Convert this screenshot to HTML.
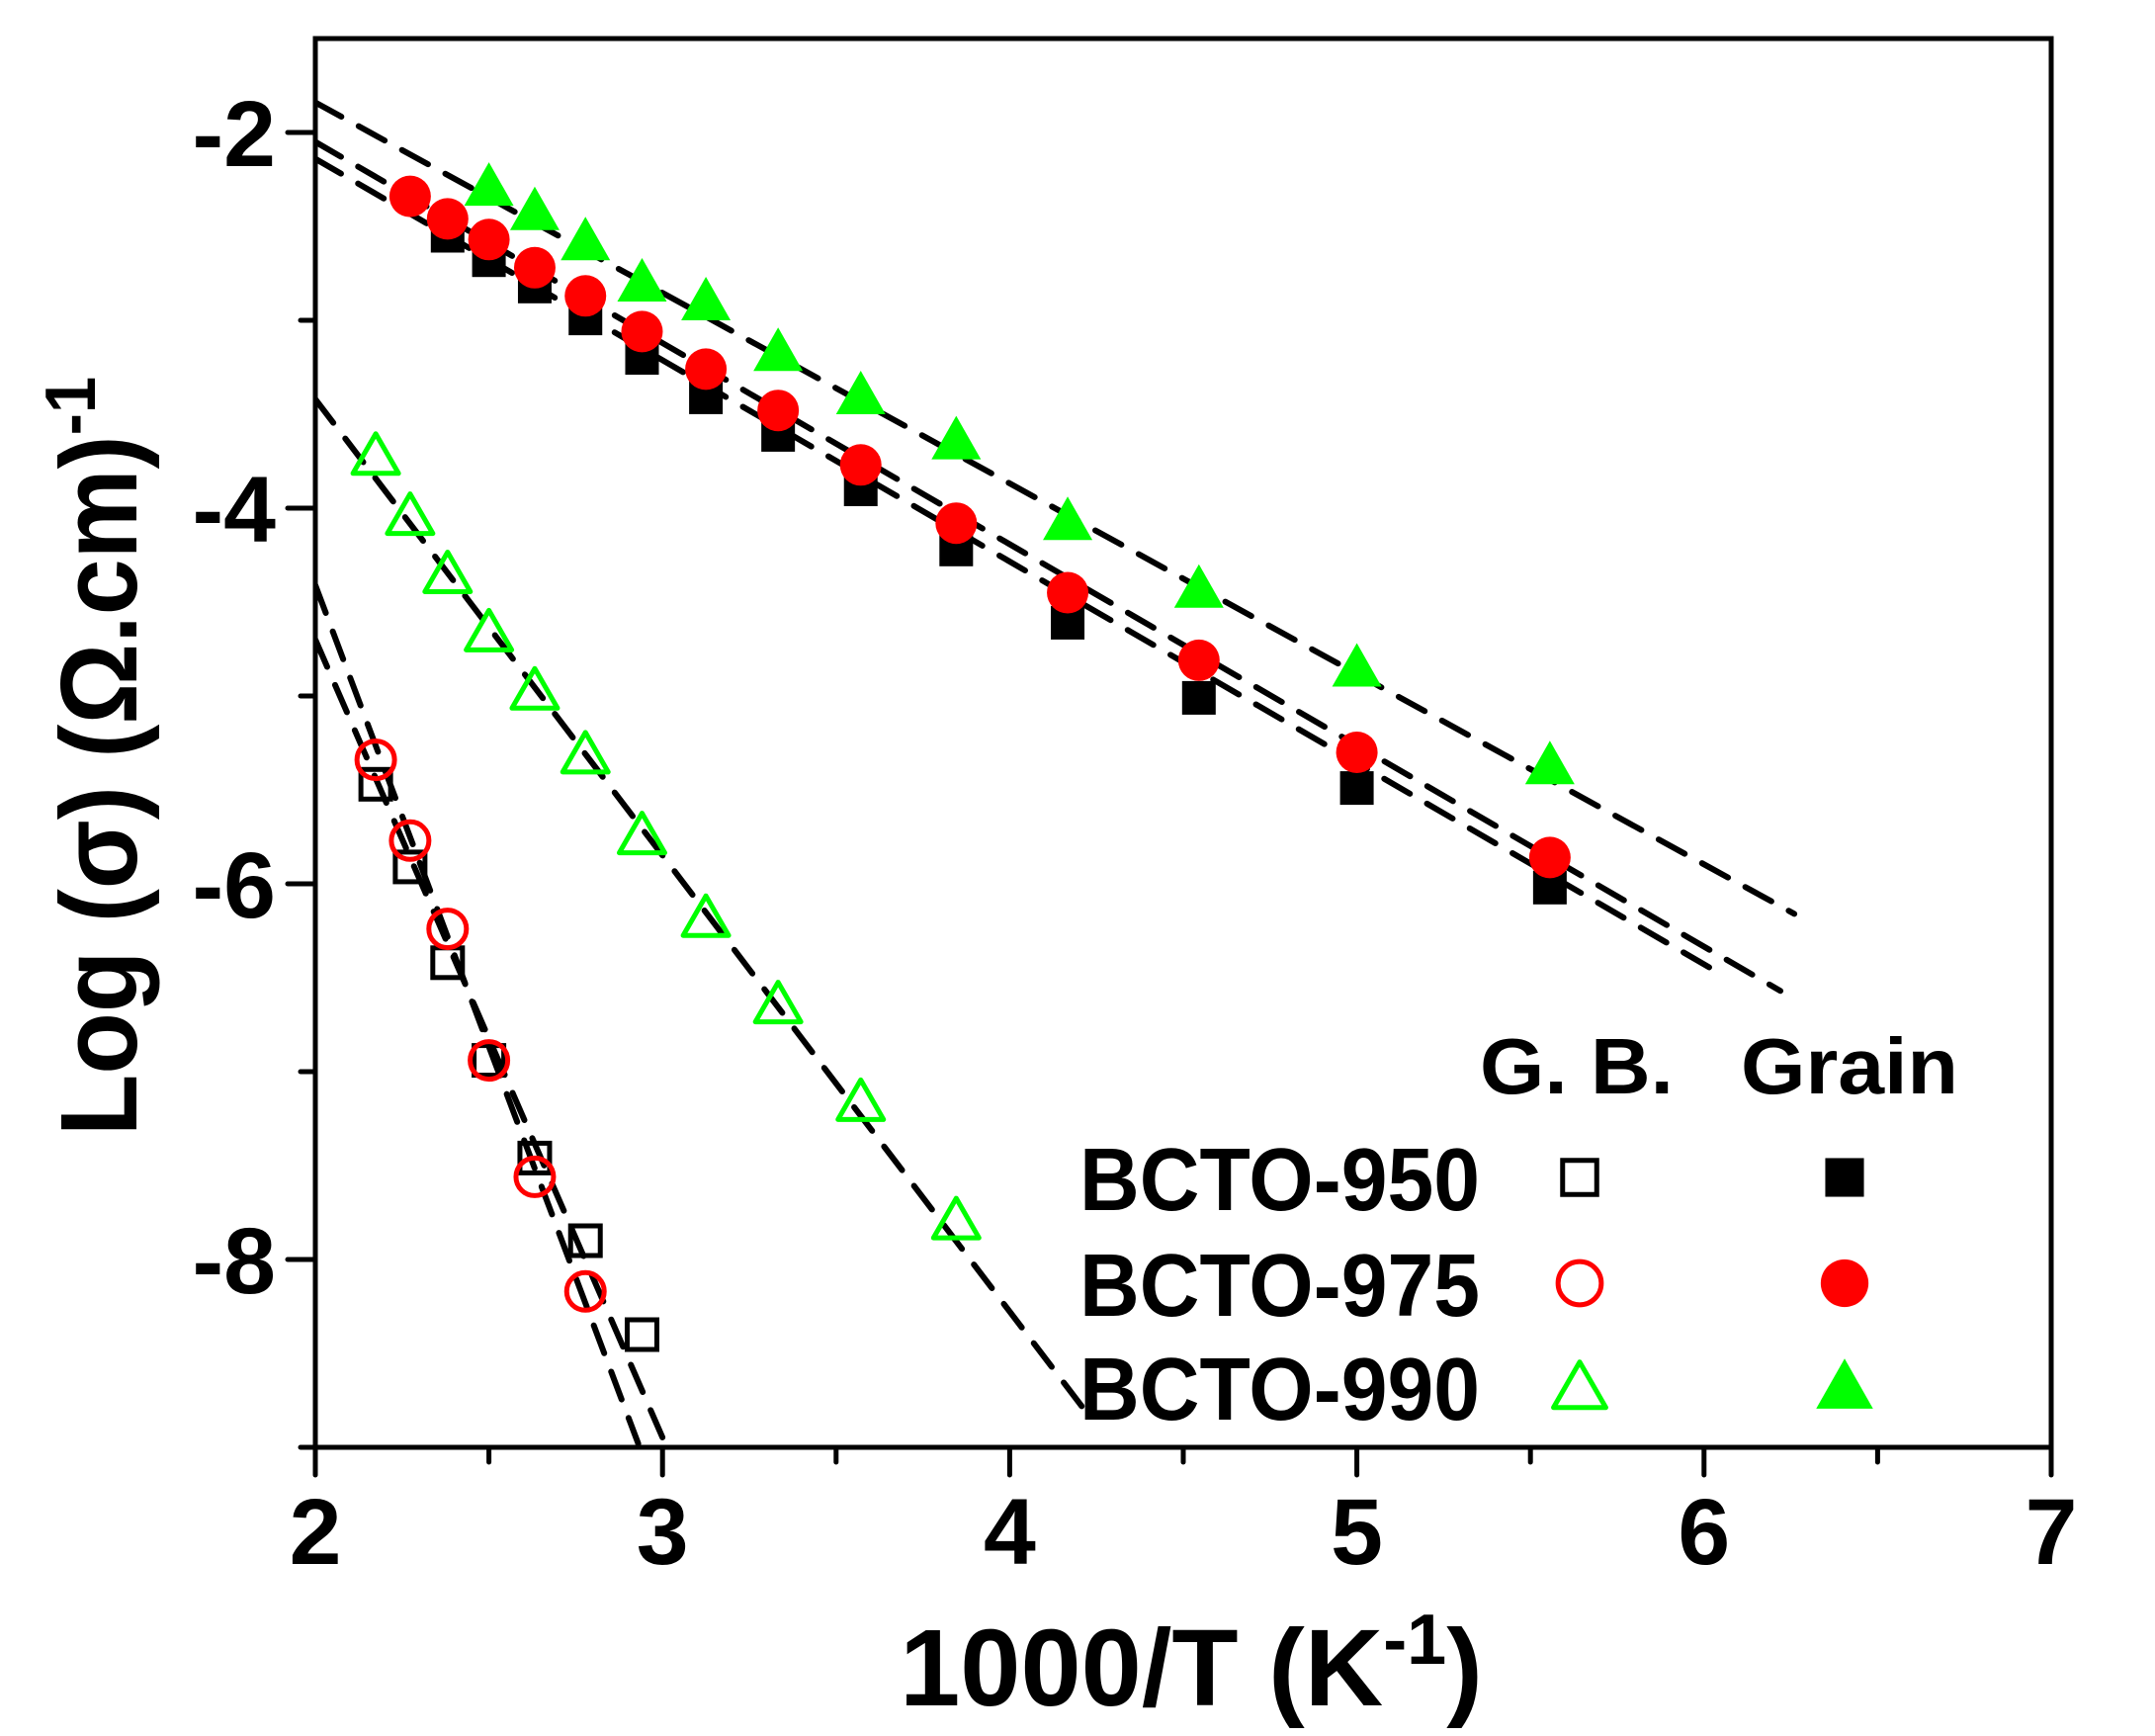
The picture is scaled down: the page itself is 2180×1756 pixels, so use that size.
<!DOCTYPE html>
<html><head><meta charset="utf-8"><style>
html,body{margin:0;padding:0;background:#fff;}
svg{display:block;font-family:"Liberation Sans",Arial,sans-serif;font-weight:bold;}
</style></head><body>
<svg id="chart" width="2180" height="1756" viewBox="0 0 2180 1756" xmlns="http://www.w3.org/2000/svg"></svg>
<script>
const xTicks = [2,3,4,5,6,7];
const yTicks = [-2,-4,-6,-8];
const xGrain = [2.381,2.5,2.632,2.778,2.941,3.125,3.333,3.571,3.846,4.167,4.545,5.0,5.556];
const grain950 = [-2.55,-2.68,-2.82,-2.99,-3.20,-3.41,-3.61,-3.90,-4.22,-4.61,-5.01,-5.49,-6.02];
const xGrain975 = [2.273,2.381,2.5,2.632,2.778,2.941,3.125,3.333,3.571,3.846,4.167,4.545,5.0,5.556];
const grain975 = [-2.34,-2.46,-2.57,-2.72,-2.87,-3.06,-3.26,-3.48,-3.77,-4.08,-4.45,-4.81,-5.30,-5.86];
const xGrain990 = [2.5,2.632,2.778,2.941,3.125,3.333,3.571,3.846,4.167,4.545,5.0,5.556];
const grain990 = [-2.29,-2.42,-2.58,-2.80,-2.90,-3.17,-3.40,-3.64,-4.07,-4.43,-4.85,-5.37];
const xGB990 = [2.174,2.273,2.381,2.5,2.632,2.778,2.941,3.125,3.333,3.571,3.846];
const gb990 = [-3.72,-4.04,-4.35,-4.66,-4.97,-5.31,-5.74,-6.18,-6.64,-7.16,-7.79];
const xGB950 = [2.174,2.273,2.381,2.5,2.632,2.778,2.941];
const gb950 = [-5.47,-5.91,-6.42,-6.94,-7.46,-7.90,-8.40];
const xGB975 = [2.174,2.273,2.381,2.5,2.632,2.778];
const gb975 = [-5.34,-5.77,-6.24,-6.94,-7.56,-8.17];
// fit lines: [x0, y0, x1, y1] in data units
const fitGrain990 = [2.0,-1.84,6.26,-6.16];
const fitGrain975 = [2.0,-2.05,6.22,-6.57];
const fitGrain950 = [2.0,-2.14,6.02,-6.45];
const fitGB990 = [2.0,-3.42,4.24,-8.86];
const fitGB950a = [2.0,-4.41,2.93,-8.98];
const fitGB950b = [2.0,-4.70,3.01,-8.99];

const L=319,R=2075,T=39,B=1464;
const sx = v => L + (v-2)*(R-L)/5;
const sy = v => 134 + (-2 - v)*190;
const svg = document.getElementById('chart');
const NS='http://www.w3.org/2000/svg';
function mk(tag, attrs, parent){const e=document.createElementNS(NS,tag);for(const k in attrs)e.setAttribute(k,attrs[k]);(parent||svg).appendChild(e);return e;}

const defs=mk('defs',{});
const cp=mk('clipPath',{id:'clip'},defs);
mk('rect',{x:L,y:T,width:R-L,height:B-T},cp);

const fitG=mk('g',{'clip-path':'url(#clip)'});


[['fit-grain-990',fitGrain990],['fit-grain-975',fitGrain975],['fit-grain-950',fitGrain950],['fit-gb-990',fitGB990],['fit-gb-950',fitGB950a],['fit-gb-975',fitGB950b]].forEach(([n,f])=>{
  const l=mk('line',{x1:sx(f[0]),y1:sy(f[1]),x2:sx(f[2]),y2:sy(f[3]),stroke:'#000','stroke-width':6,'stroke-dasharray':'30 20','stroke-linecap':'round'},fitG);
  
  
});

function marker(type,x,y,parent,name,s){
  s=s||1;
  let e;
  if(type==='sq') e=mk('rect',{x:x-17*s,y:y-17*s,width:34*s,height:34*s,fill:'#000'},parent);
  else if(type==='osq') e=mk('rect',{x:x-15*s,y:y-15*s,width:30*s,height:30*s,fill:'none',stroke:'#000','stroke-width':5},parent);
  else if(type==='ci') e=mk('circle',{cx:x,cy:y,r:21*s,fill:'#f00'},parent);
  else if(type==='oci') e=mk('circle',{cx:x,cy:y,r:19*s,fill:'none',stroke:'#f00','stroke-width':5},parent);
  else if(type==='tri') e=mk('polygon',{points:`${x},${y-25*s} ${x+25*s},${y+19*s} ${x-25*s},${y+19*s}`,fill:'#0f0'},parent);
  else e=mk('polygon',{points:`${x},${y-22*s} ${x+23*s},${y+18*s} ${x-23*s},${y+18*s}`,fill:'none',stroke:'#0f0','stroke-width':5,'stroke-linejoin':'round'},parent);
  
  
  return e;
}
function series(name,type,xs,ys){
  const g=mk('g',{});
  
  
  xs.forEach((x,i)=>marker(type,sx(x),sy(ys[i]),g,name+'-point'));
}
series('grain-950','sq',xGrain,grain950);
series('grain-975','ci',xGrain975,grain975);
series('grain-990','tri',xGrain990,grain990);
series('gb-990','otri',xGB990,gb990);
series('gb-950','osq',xGB950,gb950);
series('gb-975','oci',xGB975,gb975);

const frame=mk('rect',{x:L,y:T,width:R-L,height:B-T,fill:'none',stroke:'#000','stroke-width':5});


for(let v=2;v<=7.001;v+=0.5){
  const major=Math.abs(v-Math.round(v))<1e-6;
  const t=mk('line',{x1:sx(v),y1:B,x2:sx(v),y2:B+(major?28:15),stroke:'#000','stroke-width':5,'stroke-linecap':'round'});
  
  
}
xTicks.forEach(v=>{
  const t=mk('text',{x:sx(v),y:1582,'font-size':95,'text-anchor':'middle'});
  t.textContent=v;
  
  
});
for(let v=-2;v>=-9;v--){
  const major=v%2===0;
  const t=mk('line',{x1:L,y1:sy(v),x2:L-(major?28:15),y2:sy(v),stroke:'#000','stroke-width':5,'stroke-linecap':'round'});
  
  
}
yTicks.forEach(v=>{
  const t=mk('text',{x:279,y:sy(v)+34,'font-size':95,'text-anchor':'end'});
  t.textContent=v;
  
  
});
const xt=mk('text',{x:1205,y:1725,'font-size':110,'text-anchor':'middle'});


xt.innerHTML='1000/T (K<tspan dy="-42" font-size="72">-1</tspan><tspan dy="42">)</tspan>';
const yt=mk('text',{x:0,y:0,'font-size':110,'text-anchor':'middle',transform:'translate(138,765) rotate(-90) scale(0.93,1)'});


yt.innerHTML='Log (σ) (Ω.cm)<tspan dy="-42" font-size="72">-1</tspan>';

const lg=mk('g',{transform:'translate(-21,-10)'});


const h1=mk('text',{x:1518,y:1116,'font-size':80,'textLength':196,'lengthAdjust':'spacingAndGlyphs'},lg); h1.textContent='G. B.';


const h2=mk('text',{x:1782,y:1116,'font-size':80,'textLength':220,'lengthAdjust':'spacingAndGlyphs'},lg); h2.textContent='Grain';


const legRows=[['BCTO-950',1201,'osq','sq'],['BCTO-975',1308,'oci','ci'],['BCTO-990',1413,'otri','tri']];
legRows.forEach(r=>{
  const t=mk('text',{x:1113,y:r[1]+33,'font-size':90,'textLength':405,'lengthAdjust':'spacingAndGlyphs'},lg);
  t.textContent=r[0];
  
  
  marker(r[2],1619,r[1],lg,'legend-marker-gb',1.15);
  marker(r[3],1887,r[1],lg,'legend-marker-grain',1.15);
});
</script>
</body></html>
